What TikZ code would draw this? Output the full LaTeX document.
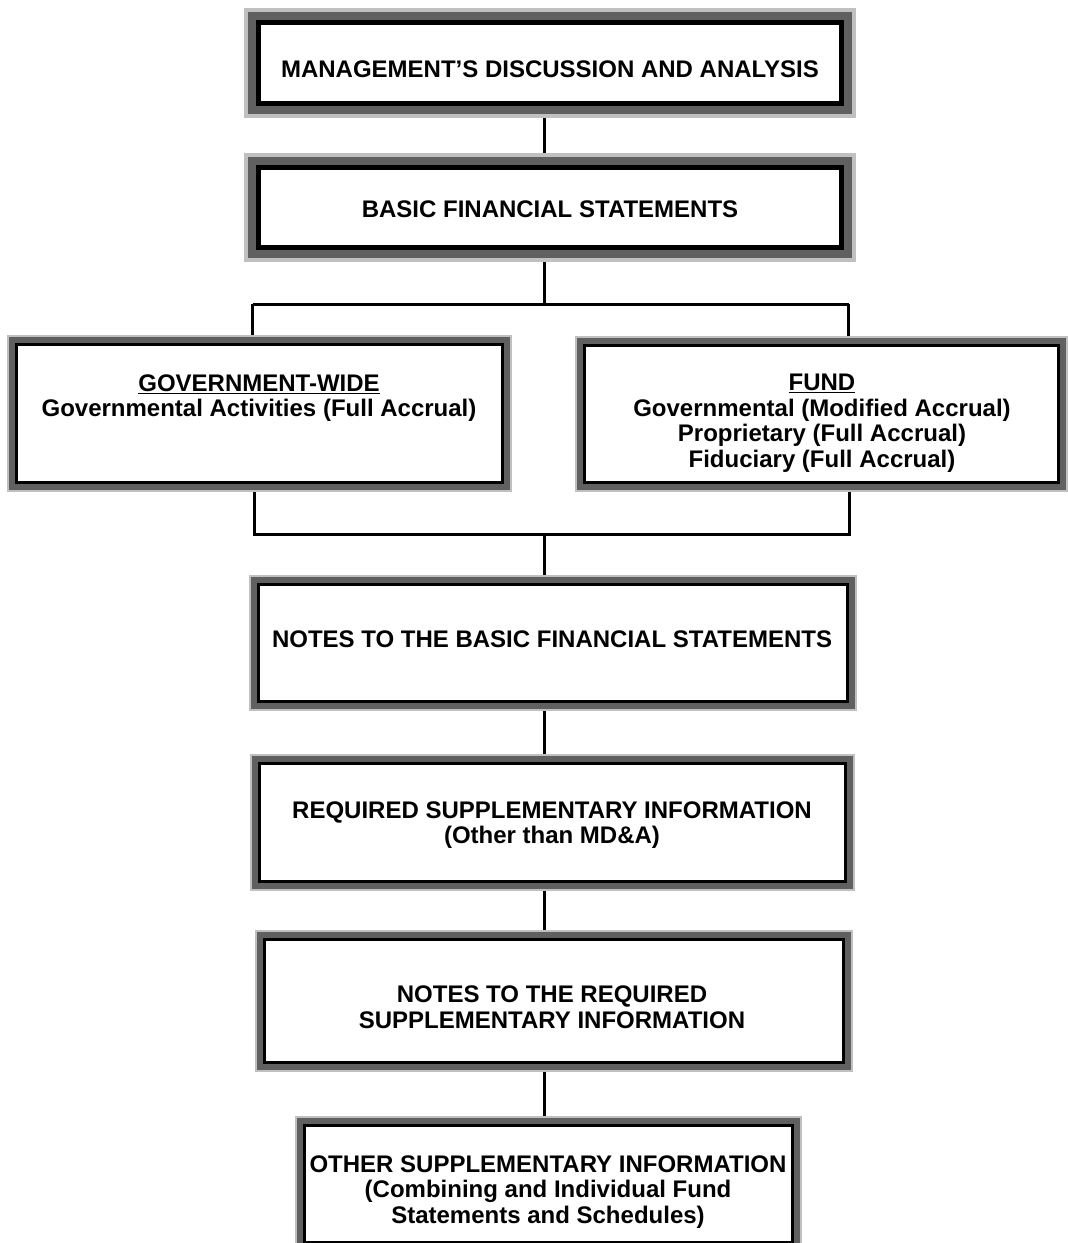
\documentclass[tikz,border=0pt]{standalone}
\usepackage{fontspec}
\setmainfont{Liberation Sans}
\usetikzlibrary{backgrounds}
\definecolor{shadelight}{HTML}{C0C0C0}
\definecolor{shadedark}{HTML}{606060}
\begin{document}
\begin{tikzpicture}[x=1pt,y=-1pt,
  thickpanel/.style={draw=black, line width=4.5pt, fill=white, inner sep=0pt, outer sep=0pt,
    preaction={draw=shadelight, line width=28.5pt},
    preaction={draw=shadedark, line width=20.5pt}},
  thinpanel/.style={draw=black, line width=3pt, fill=white, inner sep=0pt, outer sep=0pt,
    preaction={draw=shadelight, line width=19pt},
    preaction={draw=shadedark, line width=15pt}},
  txt/.style={font=\fontsize{24}{25.5}\selectfont\bfseries, align=center, inner sep=0pt},
  link/.style={draw=black, line width=3pt}
]
\useasboundingbox (0,0) rectangle (1068,1243);
\clip (0,0) rectangle (1068,1243);

\node[thickpanel, minimum width=583pt, minimum height=81pt] (mda) at (550,63) {};
\node[thickpanel, minimum width=583pt, minimum height=80pt] (bfs) at (550,207.5) {};
\node[thinpanel, minimum width=486pt, minimum height=138pt] (gw) at (259.5,413.5) {};
\node[thinpanel, minimum width=474pt, minimum height=137pt] (fund) at (821.5,414) {};
\node[thinpanel, minimum width=589pt, minimum height=117pt] (notes) at (553,643) {};
\node[thinpanel, minimum width=586pt, minimum height=118pt] (rsi) at (552.5,822.5) {};
\node[thinpanel, minimum width=579pt, minimum height=123pt] (nrsi) at (554,1001) {};
\node[thinpanel, minimum width=488pt, minimum height=117pt] (osi) at (548.5,1184) {};

\node[txt] (tmda) at (550,69) {MANAGEMENT’S DISCUSSION AND ANALYSIS};
\node[txt] (tbfs) at (550,209) {BASIC FINANCIAL STATEMENTS};
\node[txt] (tgw) at (259,398) {\underline{GOVERNMENT-WIDE}\\Governmental Activities (Full Accrual)};
\node[txt] (tfund) at (822,423) {\underline{FUND}\\Governmental (Modified Accrual)\\Proprietary (Full Accrual)\\Fiduciary (Full Accrual)};
\node[txt] (tnotes) at (552,639) {NOTES TO THE BASIC FINANCIAL STATEMENTS};
\node[txt] (trsi) at (552,825) {REQUIRED SUPPLEMENTARY INFORMATION\\(Other than MD\&A)};
\node[txt] (tnrsi) at (552,1007) {NOTES TO THE REQUIRED\\SUPPLEMENTARY INFORMATION};
\node[txt] (tosi) at (548,1192) {OTHER SUPPLEMENTARY INFORMATION\\(Combining and Individual Fund\\Statements and Schedules)};

\coordinate (top1) at (544,304);
\coordinate (topL) at (252.5,304);
\coordinate (topR) at (848.5,304);
\coordinate (bot1) at (544,534);
\coordinate (botL) at (254.5,534);
\coordinate (botR) at (849.5,534);

\begin{scope}[on background layer]
\fill[white] (0,0) rectangle (1068,1243);
\draw[link] (mda.center -| top1) -- (bfs.center -| top1);
\draw[link] (bfs.center -| top1) -- (top1);
\draw[link] (topL) -- (topR);
\draw[link] (topL) -- (gw.center -| topL);
\draw[link] (topR) -- (fund.center -| topR);
\draw[link] (gw.center -| botL) -- (botL) -- (botR) -- (fund.center -| botR);
\draw[link] (bot1) -- (notes.center -| bot1);
\draw[link] (notes.center -| bot1) -- (rsi.center -| bot1);
\draw[link] (rsi.center -| bot1) -- (nrsi.center -| bot1);
\draw[link] (nrsi.center -| bot1) -- (osi.center -| bot1);
\end{scope}
\end{tikzpicture}
\end{document}
